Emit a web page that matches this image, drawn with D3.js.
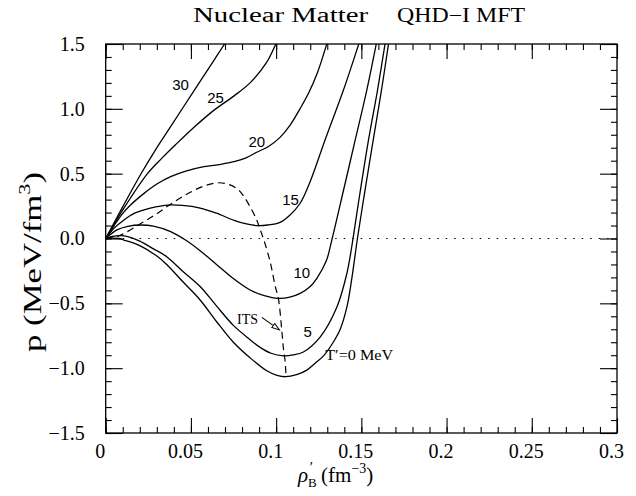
<!DOCTYPE html>
<html>
<head>
<meta charset="utf-8">
<script src="https://cdn.jsdelivr.net/npm/d3@7"></script>
<style>
body { margin:0; background:#fff; }
svg text { font-family:"Liberation Serif","DejaVu Serif",serif; fill:#000; }
</style>
</head>
<body>
<div id="vis"></div>
<script>
// tick values
var xTicks = [0, 0.05, 0.1, 0.15, 0.2, 0.25, 0.3];
var yTicks = [-1.5, -1.0, -0.5, 0.0, 0.5, 1.0, 1.5];
var xMinor = d3.range(31).map(function(i){ return i/100; });
var yMinor = d3.range(31).map(function(i){ return -1.5 + i/10; });

// isotherms, [rho'_B (fm^-3), p (MeV/fm^3)]
var t30 = [[0,0],[0.0098,0.24],[0.0209,0.503],[0.0295,0.69],[0.0381,0.862],[0.0508,1.12],[0.0636,1.376],[0.0698,1.5],[0.072,1.54]];
var t25 = [[0,0],[0.0105,0.23],[0.0245,0.5],[0.033,0.62],[0.0411,0.725],[0.052,0.86],[0.0636,0.99],[0.0753,1.1],[0.0847,1.2],[0.0945,1.36],[0.0998,1.5],[0.101,1.54]];
var t20 = [[0,0],[0.005,0.1],[0.0098,0.19],[0.0147,0.26],[0.0225,0.348],[0.03,0.42],[0.0381,0.477],[0.047,0.52],[0.0577,0.554],[0.0675,0.572],[0.0753,0.592],[0.082,0.62],[0.0886,0.665],[0.0955,0.71],[0.1023,0.78],[0.108,0.87],[0.114,1.0],[0.119,1.12],[0.124,1.27],[0.1297,1.5],[0.131,1.56]];
var t15 = [[0,0],[0.005,0.08],[0.0107,0.143],[0.0162,0.19],[0.0225,0.22],[0.03,0.245],[0.0362,0.258],[0.045,0.255],[0.0554,0.235],[0.065,0.195],[0.0753,0.14],[0.0826,0.112],[0.0886,0.1],[0.095,0.104],[0.1023,0.125],[0.108,0.18],[0.114,0.27],[0.12,0.44],[0.1287,0.76],[0.1395,1.145],[0.1485,1.5],[0.15,1.56]];
var t10 = [[0,0],[0.0066,0.066],[0.013,0.094],[0.0205,0.104],[0.028,0.095],[0.0381,0.053],[0.0466,-0.01],[0.055,-0.09],[0.065,-0.2],[0.075,-0.31],[0.0847,-0.397],[0.093,-0.44],[0.1013,-0.461],[0.108,-0.452],[0.1141,-0.423],[0.12,-0.37],[0.1239,-0.307],[0.1295,-0.17],[0.1327,-0.01],[0.1395,0.37],[0.1464,0.76],[0.1532,1.145],[0.1595,1.55]];
var t5 = [[0,0],[0.004,0.016],[0.0084,0.022],[0.013,0.015],[0.02,-0.02],[0.028,-0.08],[0.0358,-0.14],[0.045,-0.25],[0.0554,-0.37],[0.065,-0.52],[0.0749,-0.67],[0.0847,-0.78],[0.0906,-0.84],[0.097,-0.885],[0.1043,-0.905],[0.11,-0.898],[0.116,-0.875],[0.1258,-0.76],[0.1356,-0.53],[0.1415,-0.27],[0.1444,-0.06],[0.148,0.25],[0.1542,0.76],[0.1595,1.145],[0.1645,1.55]];
var t0 = [[0,0],[0.004,0.003],[0.008,0.0],[0.0103,-0.01],[0.02,-0.055],[0.03,-0.135],[0.0358,-0.2],[0.045,-0.33],[0.0554,-0.474],[0.065,-0.64],[0.0749,-0.8],[0.0847,-0.92],[0.0945,-1.02],[0.1005,-1.055],[0.1055,-1.066],[0.112,-1.05],[0.118,-1.015],[0.1235,-0.955],[0.1278,-0.905],[0.1335,-0.8],[0.1376,-0.7],[0.1415,-0.53],[0.1445,-0.3],[0.1477,0],[0.1525,0.4],[0.1571,0.77],[0.162,1.16],[0.1665,1.55]];

// dashed spinodal line
var spinodal = [[0,0],[0.008,0.022],[0.0186,0.1],[0.0287,0.18],[0.0381,0.265],[0.048,0.345],[0.0577,0.405],[0.0661,0.43],[0.0725,0.415],[0.0775,0.38],[0.0808,0.33],[0.0845,0.25],[0.0886,0.143],[0.0906,0.07],[0.093,-0.02],[0.0965,-0.18],[0.0995,-0.37],[0.1013,-0.461],[0.1033,-0.705],[0.1043,-0.85],[0.1053,-0.95],[0.1058,-1.066]];

var isotherms = [t30, t25, t20, t15, t10, t5, t0];
var curveNames = ["30", "25", "20", "15", "10", "5"];
var curveNameAt = [[0.0439,1.145],[0.0645,1.045],[0.0887,0.705],[0.1085,0.258],[0.1151,-0.305],[0.1185,-0.759]];
var zeroName = "T\u2032=0 MeV";
var zeroNameAt = [0.1288, -0.937];
var itsName = "ITS";
var itsAt = [0.0771, -0.66];
var itsArrow = [[0.0916,-0.608],[0.1019,-0.705]];

gen_vis();

function fmtY(d) { return d < 0 ? "\u2212" + Math.abs(d).toFixed(1) : d.toFixed(1); }
function fmtX(d) { return d === 0 ? "0" : String(+d.toFixed(2)); }

function gen_vis()
{
	var w = 636, h = 496;
	var x0 = 105.7, x1 = 617, y0 = 433, y1 = 44;

	var svg = d3.select("#vis").append("svg")
		.attr("width", w)
		.attr("height", h);
	svg.append("rect").attr("width", w).attr("height", h).attr("fill", "#fff");

	var x = d3.scaleLinear().domain([0, 0.3]).range([x0, x1]);
	var y = d3.scaleLinear().domain([-1.5, 1.5]).range([y0, y1]);

	// ticks on all four sides, pointing inward
	function axisGroup(axis, tr)
	{
		var g = svg.append("g").attr("transform", tr).call(axis);
		g.select(".domain").remove();
		g.attr("font-family", null).attr("font-size", null);
		g.selectAll("line").attr("stroke", "#000").attr("stroke-width", 1.1);
		g.selectAll("text").style("font-size", "20px");
		return g;
	}
	axisGroup(d3.axisBottom(x).tickValues(xMinor).tickSize(-6).tickFormat(""), "translate(0," + y0 + ")");
	axisGroup(d3.axisBottom(x).tickValues(xTicks).tickSize(-15).tickPadding(11).tickFormat(fmtX), "translate(0," + y0 + ")")
		.selectAll("text").attr("dx", -6);
	axisGroup(d3.axisTop(x).tickValues(xMinor).tickSize(-6).tickFormat(""), "translate(0," + y1 + ")");
	axisGroup(d3.axisTop(x).tickValues(xTicks).tickSize(-15).tickFormat(""), "translate(0," + y1 + ")");
	axisGroup(d3.axisLeft(y).tickValues(yMinor).tickSize(-6).tickFormat(""), "translate(" + x0 + ",0)");
	axisGroup(d3.axisLeft(y).tickValues(yTicks).tickSize(-17).tickPadding(21).tickFormat(fmtY), "translate(" + x0 + ",0)");
	axisGroup(d3.axisRight(y).tickValues(yMinor).tickSize(-6).tickFormat(""), "translate(" + x1 + ",0)");
	axisGroup(d3.axisRight(y).tickValues(yTicks).tickSize(-17).tickFormat(""), "translate(" + x1 + ",0)");

	svg.append("rect")
		.attr("x", x0).attr("y", y1)
		.attr("width", x1 - x0).attr("height", y0 - y1)
		.attr("fill", "none").attr("stroke", "#000").attr("stroke-width", 1.3);

	svg.append("clipPath").attr("id", "plotclip")
		.append("rect").attr("x", x0).attr("y", y1).attr("width", x1 - x0).attr("height", y0 - y1);

	// dotted p = 0 line
	svg.append("line")
		.attr("x1", x(0)).attr("x2", x(0.3))
		.attr("y1", y(0)).attr("y2", y(0))
		.attr("stroke", "#000").attr("stroke-width", 1.2)
		.attr("stroke-dasharray", "1.5,7");

	var line = d3.line()
		.x(function(d){ return x(d[0]); })
		.y(function(d){ return y(d[1]); })
		.curve(d3.curveCatmullRom.alpha(0.5));

	var plot = svg.append("g").attr("clip-path", "url(#plotclip)");

	plot.selectAll("path.iso")
		.data(isotherms)
		.enter()
		.append("path")
		.attr("class", "iso")
		.attr("d", line)
		.attr("fill", "none")
		.attr("stroke", "#000")
		.attr("stroke-width", 1.3);

	plot.append("path")
		.attr("d", line(spinodal))
		.attr("fill", "none")
		.attr("stroke", "#000")
		.attr("stroke-width", 1.2)
		.attr("stroke-dasharray", "7,4.5");

	// curve labels
	svg.selectAll("text.tlab")
		.data(curveNames)
		.enter()
		.append("text")
		.attr("class", "tlab")
		.attr("x", function(d, i){ return x(curveNameAt[i][0]); })
		.attr("y", function(d, i){ return y(curveNameAt[i][1]); })
		.attr("text-anchor", "middle")
		.style("font-family", "'Liberation Sans', Arimo, sans-serif")
		.style("font-size", "15px")
		.text(function(d){ return d; });

	svg.append("text")
		.attr("x", x(zeroNameAt[0])).attr("y", y(zeroNameAt[1]))
		.attr("textLength", 68).attr("lengthAdjust", "spacingAndGlyphs")
		.style("font-size", "15px")
		.text(zeroName);

	svg.append("text")
		.attr("x", x(itsAt[0])).attr("y", y(itsAt[1]))
		.attr("textLength", 21).attr("lengthAdjust", "spacingAndGlyphs")
		.style("font-size", "15px")
		.text(itsName);

	svg.append("defs").append("marker")
		.attr("id", "head")
		.attr("markerUnits", "userSpaceOnUse")
		.attr("markerWidth", 10).attr("markerHeight", 8)
		.attr("refX", 8).attr("refY", 3)
		.attr("orient", "auto")
		.append("path")
		.attr("d", "M0.5,0.5 L8,3 L0.5,5.5 Z")
		.attr("fill", "#fff").attr("stroke", "#000").attr("stroke-width", 1);

	svg.append("line")
		.attr("x1", x(itsArrow[0][0])).attr("y1", y(itsArrow[0][1]))
		.attr("x2", x(itsArrow[1][0])).attr("y2", y(itsArrow[1][1]))
		.attr("stroke", "#000").attr("stroke-width", 1.1)
		.attr("marker-end", "url(#head)");

	// title
	svg.append("text").attr("x", 193).attr("y", 22)
		.attr("textLength", 175).attr("lengthAdjust", "spacingAndGlyphs")
		.style("font-size", "20px").text("Nuclear Matter");
	svg.append("text").attr("x", 397).attr("y", 22)
		.attr("textLength", 128).attr("lengthAdjust", "spacingAndGlyphs")
		.style("font-size", "20px").text("QHD\u2212I MFT");

	// axis titles
	var yl = svg.append("text")
		.attr("transform", "translate(41,262) rotate(-90)")
		.attr("text-anchor", "middle")
		.attr("textLength", 180).attr("lengthAdjust", "spacingAndGlyphs")
		.style("font-size", "25px");
	yl.append("tspan").text("p (MeV/fm");
	yl.append("tspan").attr("dy", -11).style("font-size", "16px").text("3");
	yl.append("tspan").attr("dy", 11).text(")");

	var xl = svg.append("text")
		.attr("x", 298).attr("y", 482)
		.style("font-size", "21px");
	xl.append("tspan").style("font-style", "italic").text("\u03c1");
	xl.append("tspan").attr("dy", 5).style("font-size", "13px").text("B");
	xl.append("tspan").attr("dx", -7).attr("dy", -15).style("font-size", "15px").text("\u2032");
	xl.append("tspan").attr("dx", 8).attr("dy", 10).text("(fm");
	xl.append("tspan").attr("dy", -9).style("font-size", "14px").text("\u22123");
	xl.append("tspan").attr("dy", 9).text(")");
}
</script>
</body>
</html>
